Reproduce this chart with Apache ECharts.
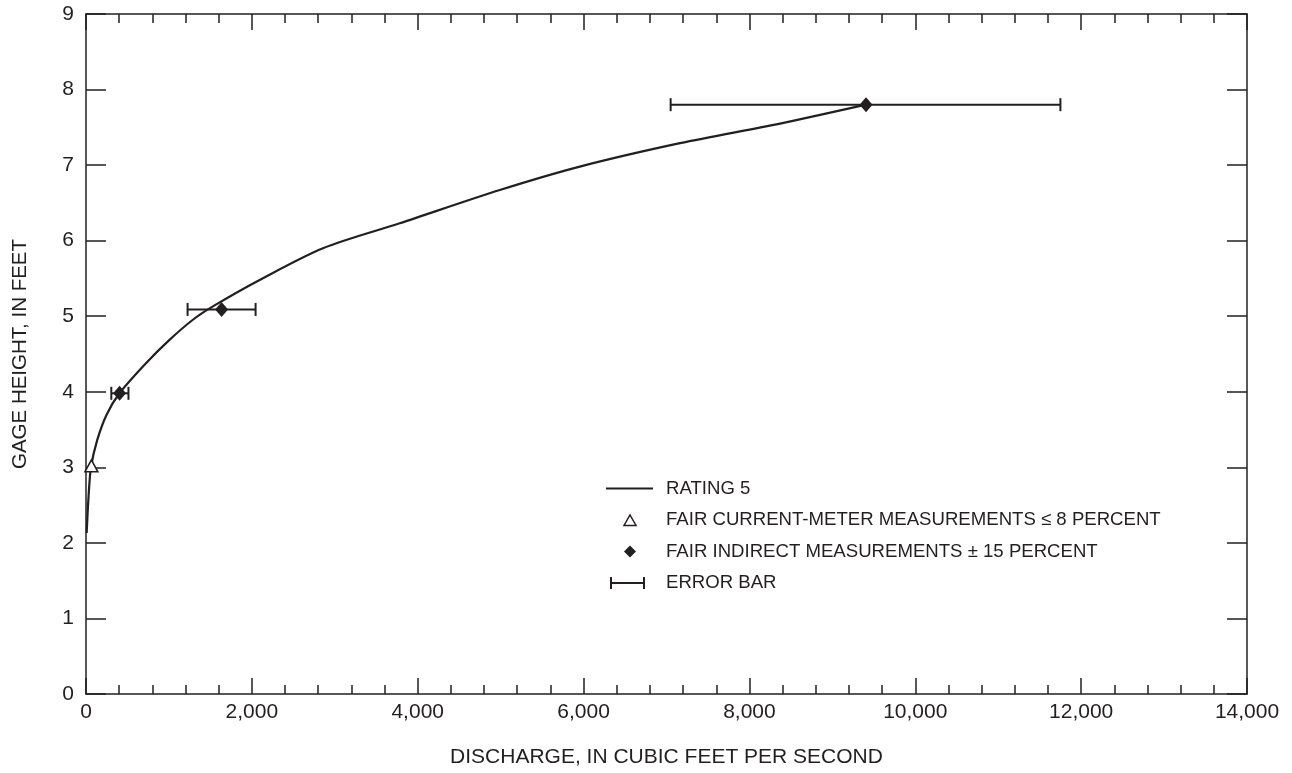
<!DOCTYPE html>
<html>
<head>
<meta charset="utf-8">
<script src="https://cdn.jsdelivr.net/npm/echarts@6/dist/echarts.min.js"></script>
<style>
  html, body { margin: 0; padding: 0; background: #ffffff; }
  #chart { width: 1292px; height: 773px; }
</style>
</head>
<body>
<div id="chart"></div>
<script>
// Axis tick labels
const xTickLabels = ['0', '2,000', '4,000', '6,000', '8,000', '10,000', '12,000', '14,000'];
const yTickLabels = ['0', '1', '2', '3', '4', '5', '6', '7', '8', '9'];

// Rating 5 curve: [discharge (ft3/s), gage height (ft)]
const ratingCurve = [
  [8, 2.13], [30, 2.6], [60, 3.0], [135, 3.36], [250, 3.7], [404, 3.98],
  [726, 4.38], [1000, 4.68], [1285, 4.95], [1530, 5.13], [2094, 5.48],
  [2858, 5.9], [3783, 6.23], [4990, 6.67], [5955, 6.98], [7162, 7.29],
  [8369, 7.55], [9406, 7.8]
];

// Fair current-meter measurements
const currentMeter = [[65, 3.02]];

// Fair indirect measurements
const indirect = [[405, 3.98], [1635, 5.09], [9406, 7.8]];

// Error bars: [gage height, low discharge, high discharge]
const errorBars = [[3.98, 305, 512], [5.09, 1225, 2045], [7.8, 7050, 11750]];

const ink = '#231f20';
const font = '"Liberation Sans", Arial, Helvetica, sans-serif';

const names = {
  rating: 'RATING 5',
  meter: 'FAIR CURRENT-METER MEASUREMENTS \u2264 8 PERCENT',
  indirect: 'FAIR INDIRECT MEASUREMENTS \u00b1 15 PERCENT',
  error: 'ERROR BAR'
};

const chart = echarts.init(document.getElementById('chart'), null, { renderer: 'canvas' });

const xBase = {
  type: 'value', min: 0, max: 14000, interval: 2000,
  axisLine: { show: true, onZero: false, lineStyle: { color: ink, width: 1.5 } },
  axisTick: { show: true, inside: true, length: 16, lineStyle: { color: ink, width: 1.5 } },
  minorTick: { show: true, splitNumber: 5, length: 9, lineStyle: { color: ink, width: 1.5 } },
  splitLine: { show: false },
  minorSplitLine: { show: false }
};
const yBase = {
  type: 'value', min: 0, max: 9, interval: 1,
  axisLine: { show: true, onZero: false, lineStyle: { color: ink, width: 1.5 } },
  axisTick: { show: true, inside: true, length: 20, lineStyle: { color: ink, width: 1.5 } },
  splitLine: { show: false }
};

chart.setOption({
  animation: false,
  backgroundColor: '#ffffff',
  grid: { left: 86, right: 45, top: 14, bottom: 79, containLabel: false },
  xAxis: [
    Object.assign({}, xBase, {
      position: 'bottom',
      name: 'DISCHARGE, IN CUBIC FEET PER SECOND',
      nameLocation: 'middle', nameGap: 53,
      nameTextStyle: { fontSize: 21, color: ink, fontFamily: font },
      axisLabel: {
        show: true, margin: 8, fontSize: 21, color: ink, fontFamily: font,
        formatter: v => xTickLabels[Math.round(v / 2000)]
      }
    }),
    Object.assign({}, xBase, { position: 'top', axisLabel: { show: false } })
  ],
  yAxis: [
    Object.assign({}, yBase, {
      position: 'left',
      name: 'GAGE HEIGHT, IN FEET',
      nameLocation: 'middle', nameGap: 55,
      nameTextStyle: { fontSize: 20.5, color: ink, fontFamily: font },
      axisLabel: {
        show: true, margin: 12, fontSize: 21, color: ink, fontFamily: font,
        formatter: v => yTickLabels[Math.round(v)]
      }
    }),
    Object.assign({}, yBase, { position: 'right', axisLabel: { show: false } })
  ],
  legend: {
    orient: 'vertical', left: 600, top: 474,
    itemWidth: 55, itemHeight: 14, itemGap: 12.5,
    selectedMode: false,
    textStyle: { fontSize: 18.6, color: ink, fontFamily: font },
    data: [
      { name: names.rating, icon: 'path://M0,0M55,14M0,7L47,7',
        itemStyle: { color: 'transparent', borderColor: ink, borderWidth: 2 } },
      { name: names.meter, icon: 'path://M0,0M55,14M18,12.5L30,12.5L24,2Z',
        itemStyle: { color: '#ffffff', borderColor: ink, borderWidth: 1.5 } },
      { name: names.indirect, icon: 'path://M0,0M55,14M24,1L30,7L24,13L18,7Z',
        itemStyle: { color: ink, borderColor: ink, borderWidth: 0 } },
      { name: names.error, icon: 'path://M0,0M55,14M5,7L38,7M5,1L5,13M38,1L38,13',
        itemStyle: { color: 'transparent', borderColor: ink, borderWidth: 2 } }
    ]
  },
  series: [
    {
      name: names.error,
      type: 'custom',
      data: errorBars,
      encode: { x: [1, 2], y: 0 },
      z: 2,
      itemStyle: { color: ink },
      renderItem: function (params, api) {
        const y = api.value(0);
        const p1 = api.coord([api.value(1), y]);
        const p2 = api.coord([api.value(2), y]);
        const cap = 6.5;
        const st = { stroke: ink, lineWidth: 2 };
        return {
          type: 'group',
          children: [
            { type: 'line', shape: { x1: p1[0], y1: p1[1], x2: p2[0], y2: p2[1] }, style: st },
            { type: 'line', shape: { x1: p1[0], y1: p1[1] - cap, x2: p1[0], y2: p1[1] + cap }, style: st },
            { type: 'line', shape: { x1: p2[0], y1: p2[1] - cap, x2: p2[0], y2: p2[1] + cap }, style: st }
          ]
        };
      }
    },
    {
      name: names.rating,
      type: 'line',
      data: ratingCurve,
      symbol: 'none',
      smooth: 0.3,
      z: 3,
      lineStyle: { color: ink, width: 2.2 },
      itemStyle: { color: ink }
    },
    {
      name: names.meter,
      type: 'scatter',
      data: currentMeter,
      symbol: 'triangle',
      symbolSize: [13, 12],
      z: 4,
      itemStyle: { color: '#ffffff', borderColor: ink, borderWidth: 1.5, opacity: 1 }
    },
    {
      name: names.indirect,
      type: 'scatter',
      data: indirect,
      symbol: 'diamond',
      symbolSize: [13, 15],
      z: 5,
      itemStyle: { color: ink, opacity: 1 }
    }
  ]
});
</script>
</body>
</html>
